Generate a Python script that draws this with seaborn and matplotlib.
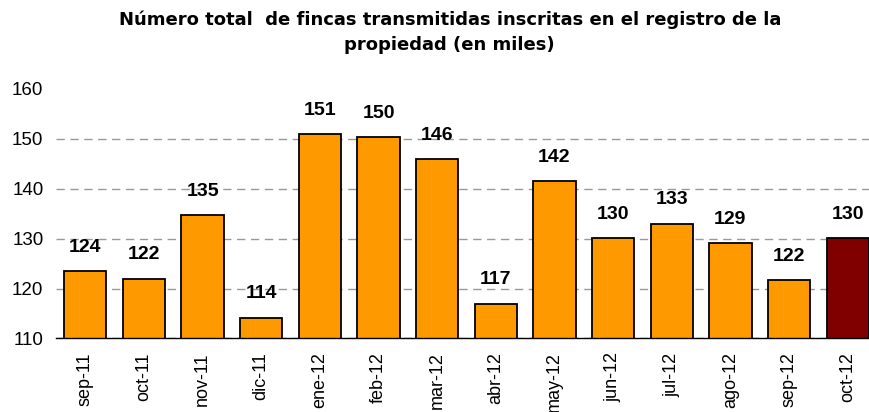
import matplotlib
matplotlib.use("Agg")
import matplotlib.pyplot as plt
import seaborn as sns
import numpy as np

months = ["sep-11", "oct-11", "nov-11", "dic-11", "ene-12", "feb-12", "mar-12",
          "abr-12", "may-12", "jun-12", "jul-12", "ago-12", "sep-12", "oct-12"]
values = [123.5, 122.0, 134.7, 114.2, 151.0, 150.3, 146.0,
          117.0, 141.5, 130.1, 133.0, 129.1, 121.7, 130.1]
labels = ["124", "122", "135", "114", "151", "150", "146",
          "117", "142", "130", "133", "129", "122", "130"]
colors = ["#FF9900"] * 13 + ["#800000"]

sns.set_style("white")
plt.rcParams["font.family"] = ["Liberation Sans", "DejaVu Sans"]
plt.rcParams["text.color"] = "black"
plt.rcParams["xtick.color"] = "black"
plt.rcParams["ytick.color"] = "black"

fig = plt.figure(figsize=(8.7, 4.12), dpi=100)
ax = fig.add_axes([56 / 870, 0.1784, 821 / 870, 0.6056])

sns.barplot(x=months, y=values, hue=months, palette=colors, legend=False,
            width=0.72, edgecolor="black", linewidth=1.3, saturation=1, ax=ax)

ax.set_ylim(110, 160)
ax.set_yticks(range(110, 161, 10))
ax.tick_params(axis="y", length=0, labelsize=13.5, pad=9, labelcolor="black")
ax.yaxis.grid(True, color="#999999", linestyle=(0, (6, 4)), linewidth=1)
ax.set_axisbelow(True)
ax.yaxis.get_gridlines()[-1].set_visible(False)

ax.set_xlim(-0.5, len(months) - 0.5)
ax.set_xticks(np.arange(len(months)))
ax.set_xticklabels(months, rotation=90, fontsize=13, color="black")
ax.tick_params(axis="x", which="major", length=0, pad=10)
ax.set_xticks(np.arange(len(months) + 1) - 0.5, minor=True)
ax.tick_params(axis="x", which="minor", length=5, width=1, color="black")

for s in ["top", "right", "left"]:
    ax.spines[s].set_visible(False)
ax.spines["bottom"].set_color("black")
ax.spines["bottom"].set_linewidth(1)

for i, (v, t) in enumerate(zip(values, labels)):
    ax.annotate(t, (i, v), xytext=(0, 11), textcoords="offset points",
                ha="center", va="bottom", fontsize=14, fontweight="bold",
                color="black")

fig.text(0.517, 0.975, "Número total  de fincas transmitidas inscritas en el registro de la\npropiedad (en miles)",
         ha="center", va="top", fontsize=13, fontweight="bold", linespacing=1.55,
         family=["DejaVu Sans"], color="black")

fig.savefig("out.png", dpi=100)
